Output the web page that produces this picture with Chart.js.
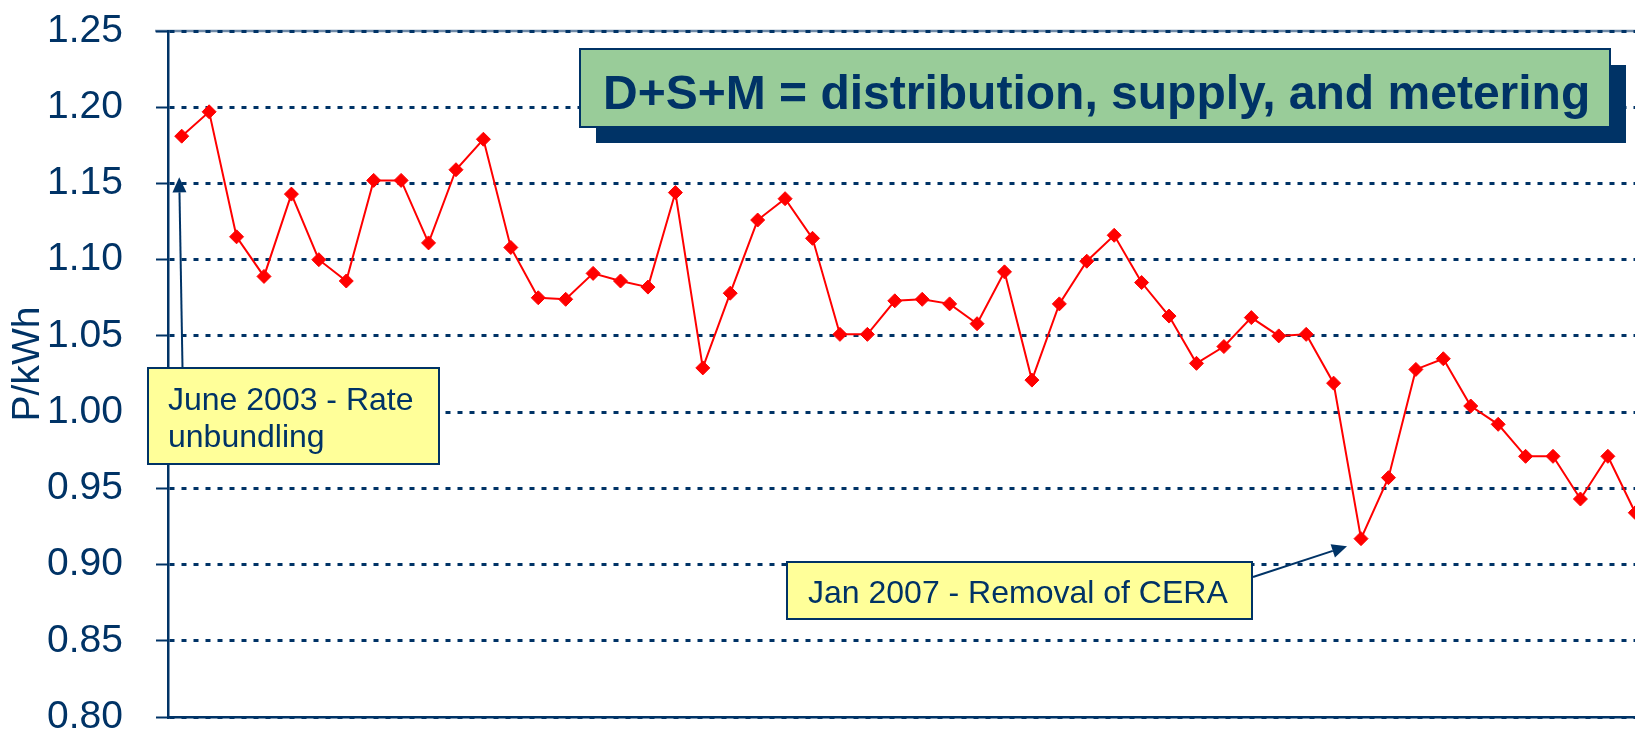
<!DOCTYPE html>
<html lang="en">
<head>
    <meta charset="UTF-8">
    <title>D+S+M price</title>
    <script src="https://cdn.jsdelivr.net/npm/chart.js@4.4.0/dist/chart.umd.min.js"></script>
<style>
  html, body {
    margin: 0;
    padding: 0;
    background: #ffffff;
    overflow: hidden;
  }
  .chart-container {
    position: absolute;
    left: 0;
    top: 0;
    width: 1660px;
    height: 760px;
  }
</style>
</head>
<body>
    <div class="chart-container">
      <canvas id="myChart" width="1660" height="760"></canvas>
    </div>

<script>
// monthly categories, Jun 2003 .. Nov 2007
const months = [
  'Jun-03','Jul-03','Aug-03','Sep-03','Oct-03','Nov-03','Dec-03',
  'Jan-04','Feb-04','Mar-04','Apr-04','May-04','Jun-04','Jul-04','Aug-04','Sep-04','Oct-04','Nov-04','Dec-04',
  'Jan-05','Feb-05','Mar-05','Apr-05','May-05','Jun-05','Jul-05','Aug-05','Sep-05','Oct-05','Nov-05','Dec-05',
  'Jan-06','Feb-06','Mar-06','Apr-06','May-06','Jun-06','Jul-06','Aug-06','Sep-06','Oct-06','Nov-06','Dec-06',
  'Jan-07','Feb-07','Mar-07','Apr-07','May-07','Jun-07','Jul-07','Aug-07','Sep-07','Oct-07','Nov-07'
];

// D+S+M price, P/kWh
const priceDSM = [
  1.181, 1.197, 1.115, 1.089, 1.143, 1.100, 1.086,
  1.152, 1.152, 1.111, 1.159, 1.179, 1.108, 1.075, 1.074, 1.091, 1.086, 1.082,
  1.144, 1.029, 1.078, 1.126, 1.140, 1.114, 1.051, 1.051, 1.073, 1.074, 1.071, 1.058,
  1.092, 1.021, 1.071, 1.099, 1.116, 1.085, 1.063, 1.032, 1.043, 1.062, 1.050, 1.051,
  1.019, 0.917, 0.957, 1.028, 1.035, 1.004, 0.992, 0.971, 0.971, 0.943, 0.971, 0.934
];

const yMin = 0.80;
const yMax = 1.25;
const yStep = 0.05;
const yTitle = 'P/kWh';

const bannerText = 'D+S+M = distribution, supply, and metering';
const noteUnbundling = ['June 2003 - Rate', 'unbundling'];
const noteCera = 'Jan 2007 - Removal of CERA';

const navy = '#003366';
const FONT = '"Liberation Sans", Arial, Helvetica, sans-serif';

function arrow(ctx, x1, y1, x2, y2) {
  const a = Math.atan2(y2 - y1, x2 - x1);
  const len = 15, half = 7;
  const bx = x2 - Math.cos(a) * len, by = y2 - Math.sin(a) * len;
  ctx.beginPath();
  ctx.moveTo(x1, y1);
  ctx.lineTo(bx, by);
  ctx.stroke();
  ctx.beginPath();
  ctx.moveTo(x2, y2);
  ctx.lineTo(bx - Math.sin(a) * half, by + Math.cos(a) * half);
  ctx.lineTo(bx + Math.sin(a) * half, by - Math.cos(a) * half);
  ctx.closePath();
  ctx.fill();
}

// light solid line under the dashed top gridline
const topLine = {
  id: 'topLine',
  beforeDraw(chart) {
    const ctx = chart.ctx;
    const y = chart.scales.y.getPixelForValue(yMax);
    ctx.save();
    ctx.strokeStyle = '#6f8aa8';
    ctx.lineWidth = 2.5;
    ctx.beginPath();
    ctx.moveTo(155, y);
    ctx.lineTo(chart.width, y);
    ctx.stroke();
    ctx.restore();
  }
};

const notes = {
  id: 'notes',
  afterDraw(chart) {
    const ctx = chart.ctx;
    const xs = chart.scales.x, ys = chart.scales.y;
    ctx.save();

    // axis title
    ctx.fillStyle = navy;
    ctx.font = '39px ' + FONT;
    ctx.textAlign = 'center';
    ctx.textBaseline = 'middle';
    ctx.translate(28, 364);
    ctx.rotate(-Math.PI / 2);
    ctx.fillText(yTitle, 0, 0);
    ctx.setTransform(1, 0, 0, 1, 0, 0);

    // green banner with shadow
    ctx.fillStyle = navy;
    ctx.fillRect(596, 65, 1030, 78);
    ctx.fillStyle = '#99cc99';
    ctx.fillRect(580, 49, 1030, 78);
    ctx.strokeStyle = navy;
    ctx.lineWidth = 2;
    ctx.strokeRect(580, 49, 1030, 78);
    ctx.fillStyle = navy;
    ctx.font = 'bold 48px ' + FONT;
    ctx.textAlign = 'left';
    ctx.textBaseline = 'alphabetic';
    ctx.fillText(bannerText, 603, 109);

    // June 2003 note
    ctx.fillStyle = '#ffff99';
    ctx.fillRect(148, 368, 291, 96);
    ctx.strokeRect(148, 368, 291, 96);
    ctx.fillStyle = navy;
    ctx.font = '32px ' + FONT;
    ctx.fillText(noteUnbundling[0], 168, 410);
    ctx.fillText(noteUnbundling[1], 168, 447);
    ctx.strokeStyle = navy;
    ctx.lineWidth = 2;
    arrow(ctx, 182.5, 367, xs.getPixelForValue(0) - 2.5, ys.getPixelForValue(1.154));

    // Jan 2007 note
    ctx.fillStyle = '#ffff99';
    ctx.fillRect(787, 562, 465, 57);
    ctx.strokeRect(787, 562, 465, 57);
    ctx.fillStyle = navy;
    ctx.fillText(noteCera, 808, 603);
    arrow(ctx, 1253, 577, xs.getPixelForValue(43) - 14, ys.getPixelForValue(0.912));

    ctx.restore();
  }
};

const config = {
  type: 'line',
  data: {
    labels: months,
    datasets: [{
      label: 'D+S+M',
      data: priceDSM,
      borderColor: '#ff0000',
      backgroundColor: '#ff0000',
      borderWidth: 2,
      pointStyle: 'rectRot',
      pointRadius: 7,
      pointBorderWidth: 1,
      pointBorderColor: '#ff0000',
      pointBackgroundColor: '#ff0000',
      tension: 0,
      fill: false
    }]
  },
  options: {
    responsive: false,
    animation: false,
    layout: {
      padding: { top: 31, right: 11, bottom: 0, left: 0 }
    },
    plugins: {
      legend: { display: false },
      tooltip: { enabled: false },
      title: { display: false }
    },
    scales: {
      x: {
        type: 'category',
        offset: true,
        grid: { display: false },
        ticks: { display: false },
        border: { display: true, color: navy, width: 2.5 },
        afterFit(scale) {
          scale.height = 43;
          scale.paddingLeft = 0;
          scale.paddingRight = 0;
        }
      },
      y: {
        min: yMin,
        max: yMax,
        ticks: {
          stepSize: yStep,
          padding: 33,
          color: navy,
          font: { family: FONT, size: 39 },
          callback: v => v.toFixed(2)
        },
        grid: {
          color: navy,
          lineWidth: 3,
          tickLength: 12,
          tickColor: navy,
          tickWidth: 2,
          tickBorderDash: []
        },
        border: { display: true, color: navy, width: 2.5, dash: [5, 7] },
        afterFit(scale) {
          scale.width = 168;
          scale.paddingTop = 0;
          scale.paddingBottom = 0;
        }
      }
    }
  },
  plugins: [topLine, notes]
};

window.myChart = new Chart(document.getElementById('myChart').getContext('2d'), config);
</script>
</body>
</html>
